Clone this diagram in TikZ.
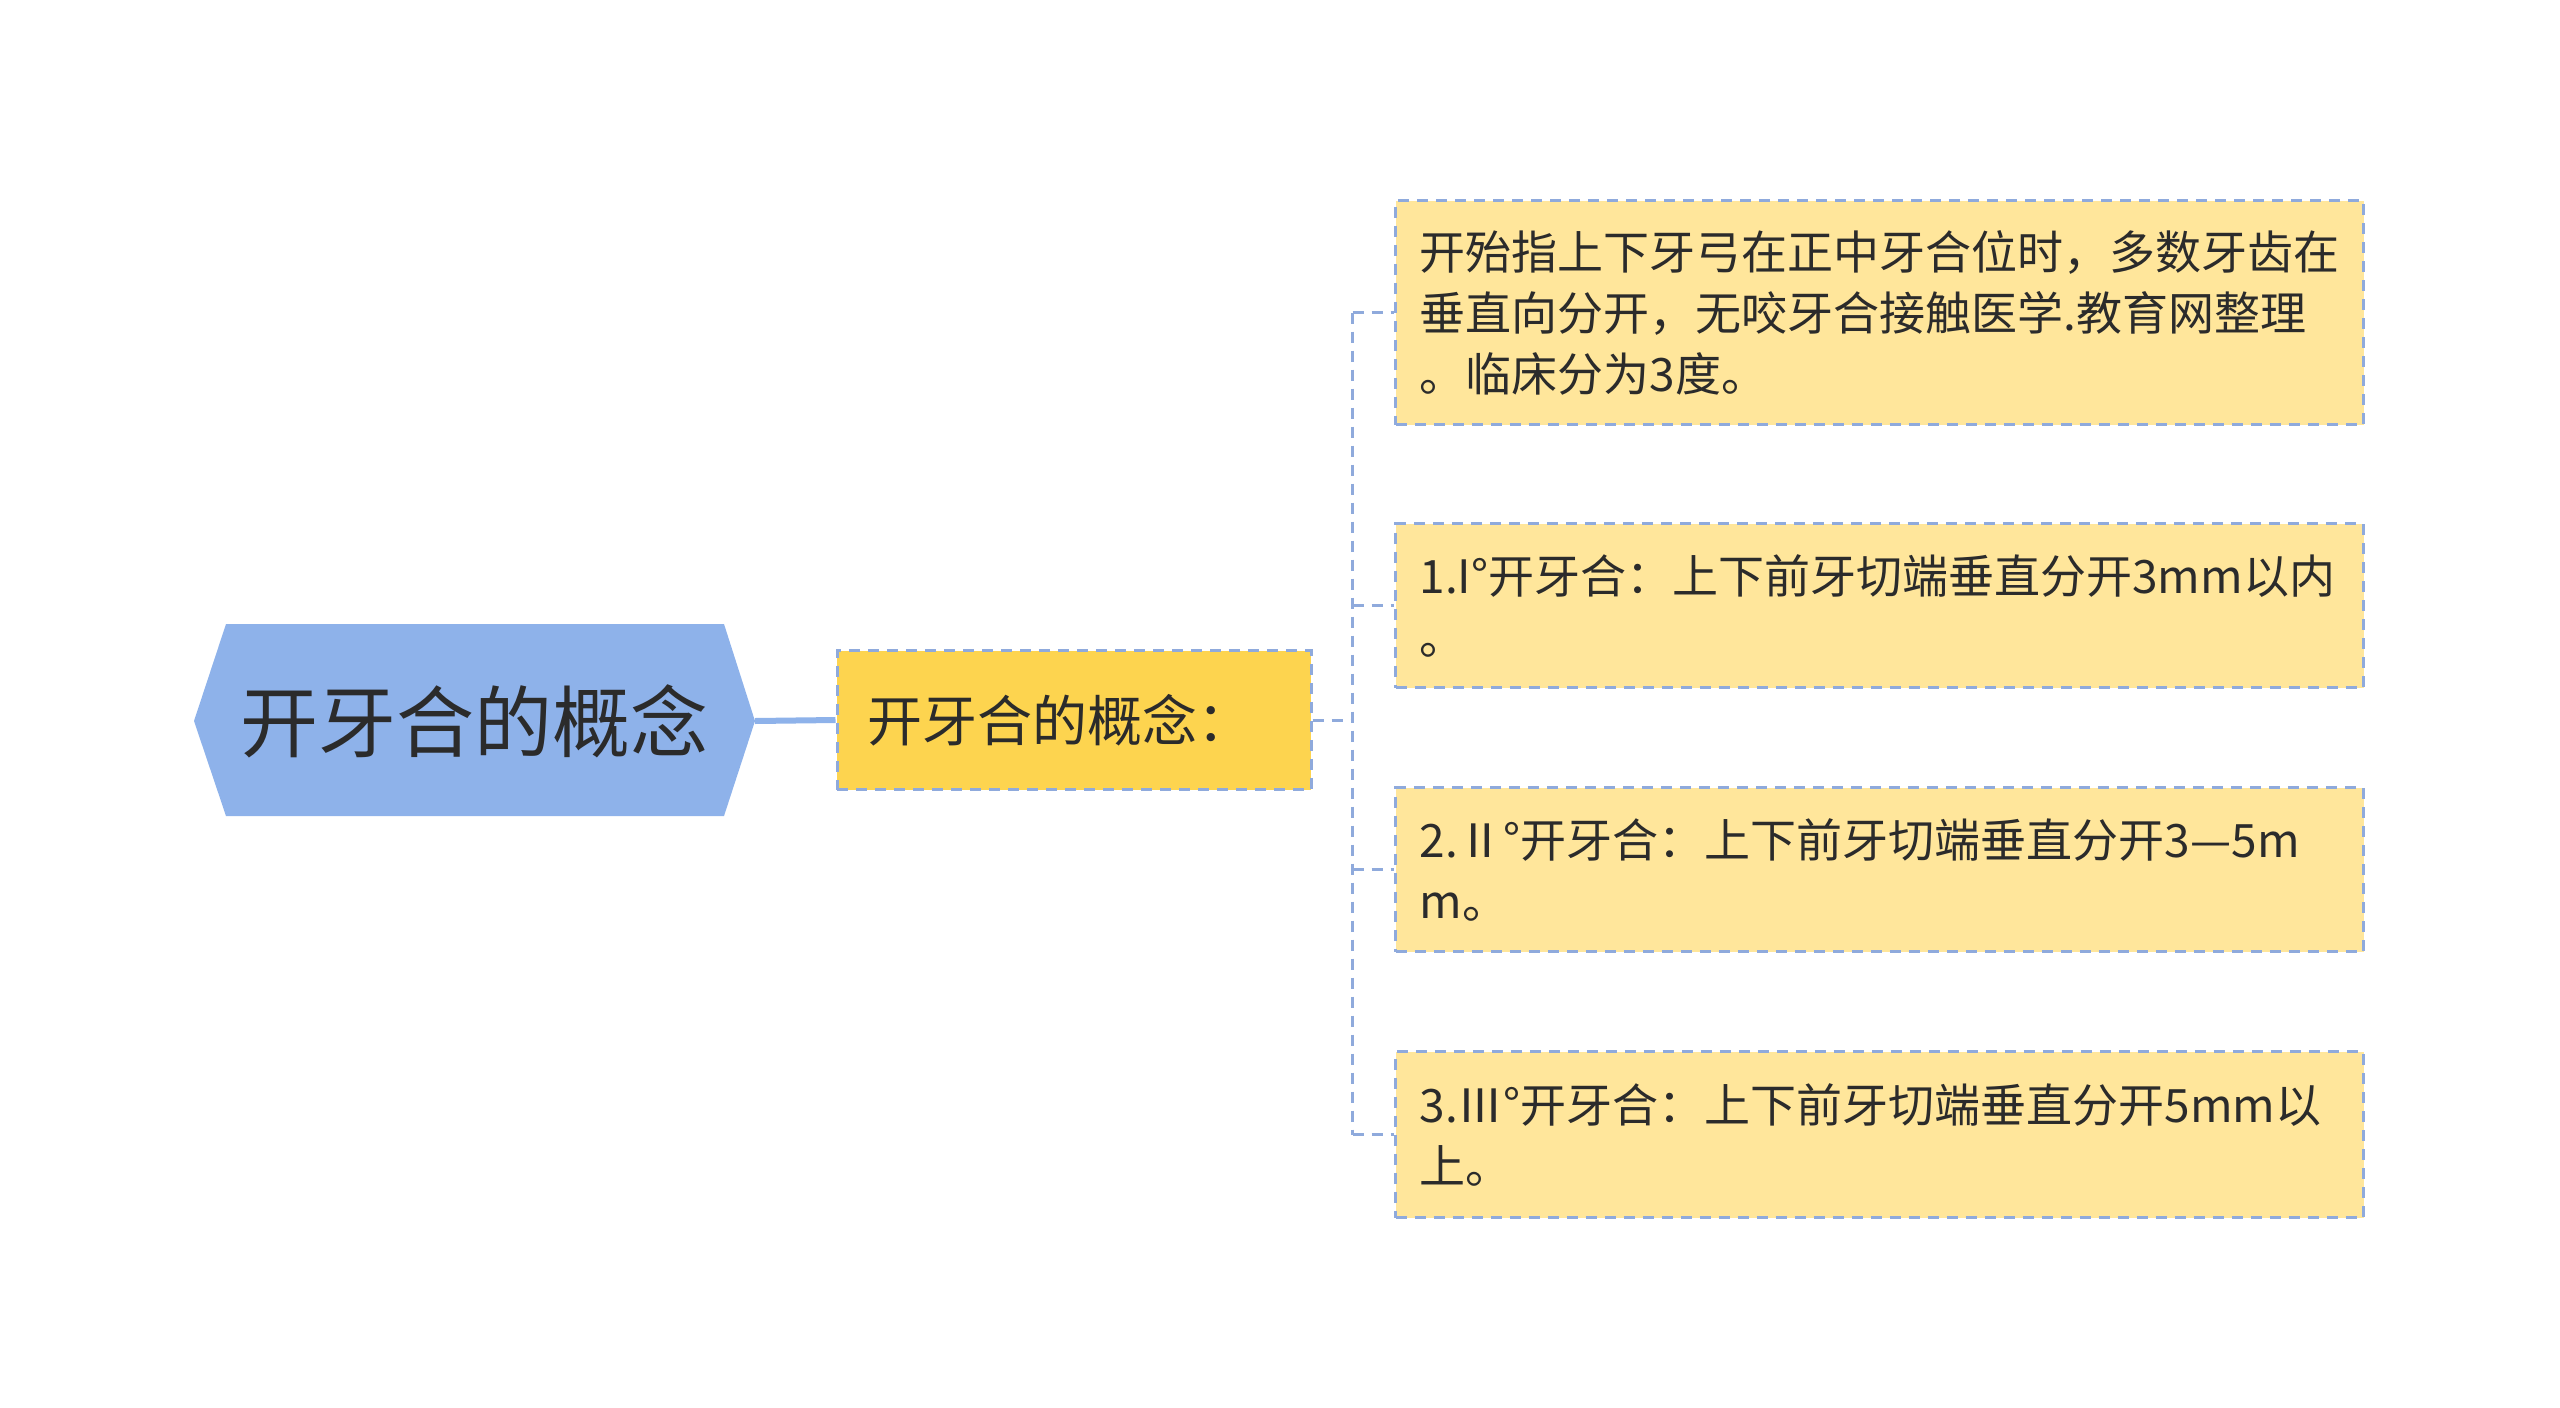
\documentclass[tikz,border=0pt]{standalone}
\usepackage{fontspec}
\setmainfont{Noto Sans CJK SC}
\definecolor{rootc}{HTML}{8EB2EA}
\definecolor{conc}{HTML}{FDD44F}
\definecolor{leafc}{HTML}{FFE69B}
\definecolor{bordc}{HTML}{8FAADC}
\definecolor{txt}{HTML}{2B2B2B}
\begin{document}
\begin{tikzpicture}[x=1pt,y=-1pt,
  leafbox/.style={draw=bordc, dash pattern=on 11pt off 8pt, line width=3pt, fill=leafc,
    minimum width=968pt, text width=920pt, inner xsep=24pt, align=left,
    font=\fontsize{46}{61}\selectfont, text=txt, anchor=north west},
  conbox/.style={draw=bordc, dash pattern=on 11pt off 8pt, line width=3pt, fill=conc,
    minimum width=474pt, minimum height=139pt, text width=414pt, inner xsep=30pt, align=left,
    font=\fontsize{55}{66}\selectfont, text=txt},
  branch/.style={draw=bordc, dash pattern=on 11pt off 8pt, line width=3pt},
  rootline/.style={draw=rootc, line width=6pt}]
\useasboundingbox (0,0) rectangle (2560,1408);
% root hexagon
\fill[rootc] (194,721) -- (226,624) -- (724,624) -- (755,721) -- (724,816) -- (226,816) -- cycle;
\node[font=\fontsize{78}{90}\selectfont, text=txt] (root) at (474,721) {开牙合的概念};
\coordinate (rootE) at (755,721);
% concept
\node[conbox] (concept) at (1074,720) {开牙合的概念：};
\draw[rootline] (rootE) -- (concept.west);
% leaves
\node[leafbox, minimum height=224pt] (leaf1) at (1394,199) {开殆指上下牙弓在正中牙合位时，多数牙齿在\\垂直向分开，无咬牙合接触医学.教育网整理\\。临床分为3度。};
\node[leafbox, minimum height=164pt] (leaf2) at (1394,522) {1.I°开牙合：上下前牙切端垂直分开3mm以内\\。};
\node[leafbox, minimum height=164pt] (leaf3) at (1394,786) {2.Ⅱ°开牙合：上下前牙切端垂直分开3—5m\\m。};
\node[leafbox, minimum height=166pt] (leaf4) at (1394,1050) {3.Ⅲ°开牙合：上下前牙切端垂直分开5mm以\\上。};
% connectors
\draw[branch] (concept.east) -- ++(40,0) coordinate (hub);
\draw[branch] (hub |- leaf1.west) -- (hub |- leaf4.west);
\draw[branch] (hub |- leaf1.west) -- (leaf1.west);
\draw[branch] (hub |- leaf2.west) -- (leaf2.west);
\draw[branch] (hub |- leaf3.west) -- (leaf3.west);
\draw[branch] (hub |- leaf4.west) -- (leaf4.west);
\end{tikzpicture}
\end{document}
